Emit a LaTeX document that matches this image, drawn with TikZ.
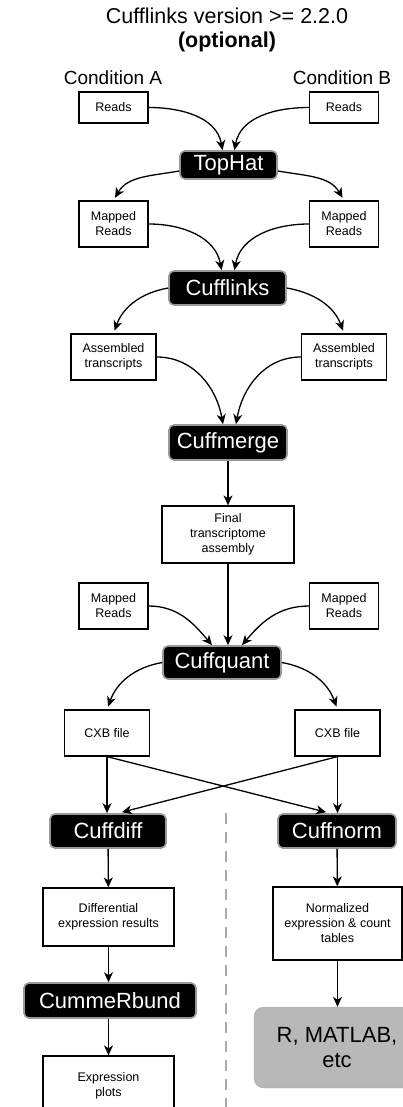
\documentclass[tikz,border=0pt]{standalone}
\usepackage{fontspec}
\setmainfont{Liberation Sans}
\usetikzlibrary{arrows.meta}

\begin{document}
\begin{tikzpicture}[
    x=1pt,y=1pt,
    box/.style={draw,line width=1.2pt,align=center,inner sep=2pt,
      font=\fontsize{12.5}{15}\selectfont},
    tool/.style={fill=black,draw=black!40,line width=1.6pt,rounded corners=5pt,
      text=white,minimum height=34pt,font=\fontsize{22}{24}\selectfont},
    label/.style={align=center,font=\fontsize{19}{22}\selectfont},
    flow/.style={->,line width=1.3pt},
    >={Stealth[length=10pt,width=9pt,inset=3pt]}]
  \useasboundingbox (0,0) rectangle (403,-1107);
  % header
  \node[label,font=\fontsize{21.5}{24}\selectfont] (title) at (227,-30)
    {Cufflinks version >= 2.2.0\\\textbf{(optional)}};
  \node[label] (condA) at (113,-78) {Condition A};
  \node[label] (condB) at (342,-78) {Condition B};
  % mapping and assembly
  \node[box,minimum width=69pt,minimum height=31pt] (readsA) at (113.5,-107.5) {Reads};
  \node[box,minimum width=69pt,minimum height=31pt] (readsB) at (344,-107.5) {Reads};
  \node[tool,minimum width=97pt,minimum height=28pt] (tophat) at (228.5,-165) {TopHat};
  \node[box,minimum width=69pt,minimum height=46pt] (mappedA) at (113.5,-224) {Mapped\\Reads};
  \node[box,minimum width=69pt,minimum height=46pt] (mappedB) at (344,-224) {Mapped\\Reads};
  \node[tool,minimum width=117pt] (cufflinks) at (227.5,-288) {Cufflinks};
  \node[box,minimum width=85pt,minimum height=46pt] (asmA) at (113.5,-357) {Assembled\\transcripts};
  \node[box,minimum width=85pt,minimum height=46pt] (asmB) at (344,-357) {Assembled\\transcripts};
  \node[tool,minimum width=118pt,minimum height=35pt] (cuffmerge) at (228,-442.5) {Cuffmerge};
  \node[box,minimum width=132pt,minimum height=57pt] (final) at (228,-534.5)
    {Final\\transcriptome\\assembly};
  % quantification
  \node[box,minimum width=69pt,minimum height=46pt] (mappedA2) at (113.5,-606) {Mapped\\Reads};
  \node[box,minimum width=69pt,minimum height=46pt] (mappedB2) at (344,-606) {Mapped\\Reads};
  \node[tool,minimum width=118pt,minimum height=33pt] (cuffquant) at (222,-662.5) {Cuffquant};
  \node[box,minimum width=85pt,minimum height=46pt] (cxbA) at (107,-733) {CXB file};
  \node[box,minimum width=85pt,minimum height=46pt] (cxbB) at (337.5,-733) {CXB file};
  % two branches
  \node[tool,minimum width=116pt] (cuffdiff) at (108,-831) {Cuffdiff};
  \node[tool,minimum width=118pt] (cuffnorm) at (337,-831) {Cuffnorm};
  \node[box,minimum width=131pt,minimum height=58pt] (diffres) at (108.5,-917)
    {Differential\\expression results};
  \node[box,minimum width=129pt,minimum height=73pt] (normtab) at (337.5,-923.5)
    {Normalized\\expression \& count\\tables};
  \node[tool,minimum width=172pt,minimum height=35pt] (cummerbund) at (110,-1000.5) {CummeRbund};
  \node[box,minimum width=131pt,minimum height=60pt] (plots) at (108.5,-1086)
    {Expression\\plots};
  \node[fill=black!28,draw=black!35,rounded corners=10pt,minimum width=166pt,minimum height=81pt,
    align=center,font=\fontsize{22}{25}\selectfont] (rmatlab) at (337,-1047.5) {R, MATLAB,\\etc};
  \draw[black!33,line width=2.5pt,dash pattern=on 11pt off 8pt] (226,-813) -- (226,-1107);
  % connectors
  \draw[flow] (readsA.east) to[out=0,in=100] ([xshift=-6pt]tophat.north);
  \draw[flow] (readsB.west) to[out=180,in=80] ([xshift=6pt]tophat.north);
  \draw[flow,shorten >=3pt] ([yshift=-6pt]tophat.west) to[out=190,in=60] (mappedA.north);
  \draw[flow,shorten >=3pt] ([yshift=-6pt]tophat.east) to[out=-10,in=120] (mappedB.north);
  \draw[flow] (mappedA.east) to[out=0,in=100] ([xshift=-6pt]cufflinks.north);
  \draw[flow] (mappedB.west) to[out=180,in=80] ([xshift=7pt]cufflinks.north);
  \draw[flow,shorten >=3pt] (cufflinks.west) to[out=190,in=70] (asmA.north);
  \draw[flow,shorten >=3pt] (cufflinks.east) to[out=-10,in=110] (asmB.north);
  \draw[flow] (asmA.east) to[out=0,in=100] ([xshift=-5pt]cuffmerge.north);
  \draw[flow] (asmB.west) to[out=180,in=80] ([xshift=8pt]cuffmerge.north);
  \draw[flow] (cuffmerge) -- (final);
  \draw[flow] (final.south) -- (final.south |- cuffquant.north);
  \draw[flow] (mappedA2.east) to[out=0,in=130] ([xshift=-10pt]cuffquant.north);
  \draw[flow] (mappedB2.west) to[out=180,in=50] ([xshift=20pt]cuffquant.north);
  \draw[flow,shorten >=3pt] (cuffquant.west) to[out=190,in=70] (cxbA.north);
  \draw[flow,shorten >=3pt] (cuffquant.east) to[out=-10,in=110] (cxbB.north);
  \draw[flow] (cxbA.south) -- (cxbA.south |- cuffdiff.north);
  \draw[flow,shorten >=4pt] (cxbA.south) -- ([xshift=-7pt]cuffnorm.north);
  \draw[flow] (cxbB.south) -- (cxbB.south |- cuffnorm.north);
  \draw[flow,shorten >=4pt] (cxbB.south) -- ([xshift=10pt]cuffdiff.north);
  \draw[flow] (cuffdiff) -- (diffres);
  \draw[flow] (diffres.south) -- (diffres.south |- cummerbund.north);
  \draw[flow] (diffres.south |- cummerbund.south) -- (plots.north);
  \draw[flow] (cuffnorm) -- (normtab);
  \draw[flow] (normtab.south) -- (normtab.south |- rmatlab.north);
\end{tikzpicture}
\end{document}
